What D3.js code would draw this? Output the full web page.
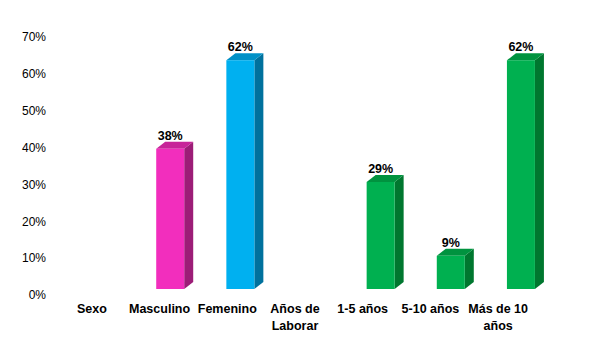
<!DOCTYPE html>
<html>
<head>
<meta charset="utf-8">
<script src="https://cdn.jsdelivr.net/npm/d3@7"></script>
<style>
  html, body { margin: 0; padding: 0; background: #fff; }
  svg { display: block; }
</style>
</head>
<body>
<svg id="chart" width="600" height="345"></svg>
<script>
// ---- data ----
const categories = ["Sexo", "Masculino", "Femenino", "Años de Laborar", "1-5 años", "5-10 años", "Más de 10 años"];
const values = [null, 38, 62, null, 29, 9, 62];
const valueLabels = ["", "38%", "62%", "", "29%", "9%", "62%"];
const yTicks = [0, 10, 20, 30, 40, 50, 60, 70];
const frontColors = ["#fff", "#F22EBD", "#00B0F0", "#fff", "#00B050", "#00B050", "#00B050"];
const sideColors  = ["#fff", "#9C1D77", "#00719D", "#fff", "#00772F", "#00772F", "#00772F"];
const topColors   = ["#fff", "#C72599", "#0091C7", "#fff", "#00933F", "#00933F", "#00933F"];

// ---- layout ----
const svg = d3.select("#chart");
const baseY = 289;
const y = d3.scaleLinear().domain([0, 70]).range([baseY, baseY - 70 * 3.69]);
const xLabel = d3.scaleBand().domain(categories).range([58, 532]);
const xBar = d3.scaleBand().domain(categories).range([65, 556]);
const barW = 28, dx = 9, dy = 7;

// y axis labels (no lines)
const yAxis = d3.axisLeft(y).tickValues(yTicks).tickFormat(d => d + "%").tickSize(0).tickPadding(0);
const gy = svg.append("g").attr("transform", "translate(46,6)").call(yAxis);
gy.select(".domain").remove();
gy.selectAll("text").attr("font-family", "Liberation Sans, Arial, sans-serif")
  .attr("font-size", "12px").attr("fill", "#000");

// bars
const data = categories.map((c, i) => ({c, v: values[i], i})).filter(d => d.v !== null);
const g = svg.append("g");
data.forEach(d => {
  const cx = xBar(d.c) + xBar.bandwidth() / 2;
  const x0 = cx - barW / 2, x1 = cx + barW / 2;
  const yt = y(d.v), yb = y(0);
  g.append("path").attr("d", `M${x1},${yb}L${x1 + dx},${yb - dy}L${x1 + dx},${yt - dy}L${x1},${yt}Z`)
    .attr("fill", sideColors[d.i]);
  g.append("path").attr("d", `M${x0},${yt}L${x0 + dx},${yt - dy}L${x1 + dx},${yt - dy}L${x1},${yt}Z`)
    .attr("fill", topColors[d.i]);
  g.append("rect").attr("x", x0).attr("y", yt).attr("width", barW).attr("height", yb - yt)
    .attr("fill", frontColors[d.i]);
  g.append("text").attr("x", cx).attr("y", yt - dy - 2).attr("text-anchor", "middle")
    .attr("font-family", "Liberation Sans, Arial, sans-serif").attr("font-weight", "bold")
    .attr("font-size", "12.5px").attr("fill", "#000").text(valueLabels[d.i]);
});

// category labels
const xAxis = d3.axisBottom(xLabel).tickSize(0).tickPadding(0);
const gx = svg.append("g").attr("transform", "translate(0,304)").call(xAxis);
gx.select(".domain").remove();
gx.selectAll("text").attr("font-family", "Liberation Sans, Arial, sans-serif")
  .attr("font-weight", "bold").attr("font-size", "12.5px").attr("fill", "#000")
  .attr("dy", "0.71em")
  .each(function(d) {
    const t = d3.select(this);
    const words = d.split(" ");
    t.text(null);
    let line = [], lines = [];
    const tmp = t.append("tspan");
    words.forEach(w => {
      line.push(w);
      tmp.text(line.join(" "));
      if (tmp.node().getComputedTextLength() > 70 && line.length > 1) {
        line.pop();
        lines.push(line.join(" "));
        line = [w];
      }
    });
    lines.push(line.join(" "));
    tmp.remove();
    lines.forEach((l, k) => {
      t.append("tspan").attr("x", 0).attr("dy", k === 0 ? "0.71em" : "1.36em").text(l);
    });
  });
</script>
</body>
</html>
